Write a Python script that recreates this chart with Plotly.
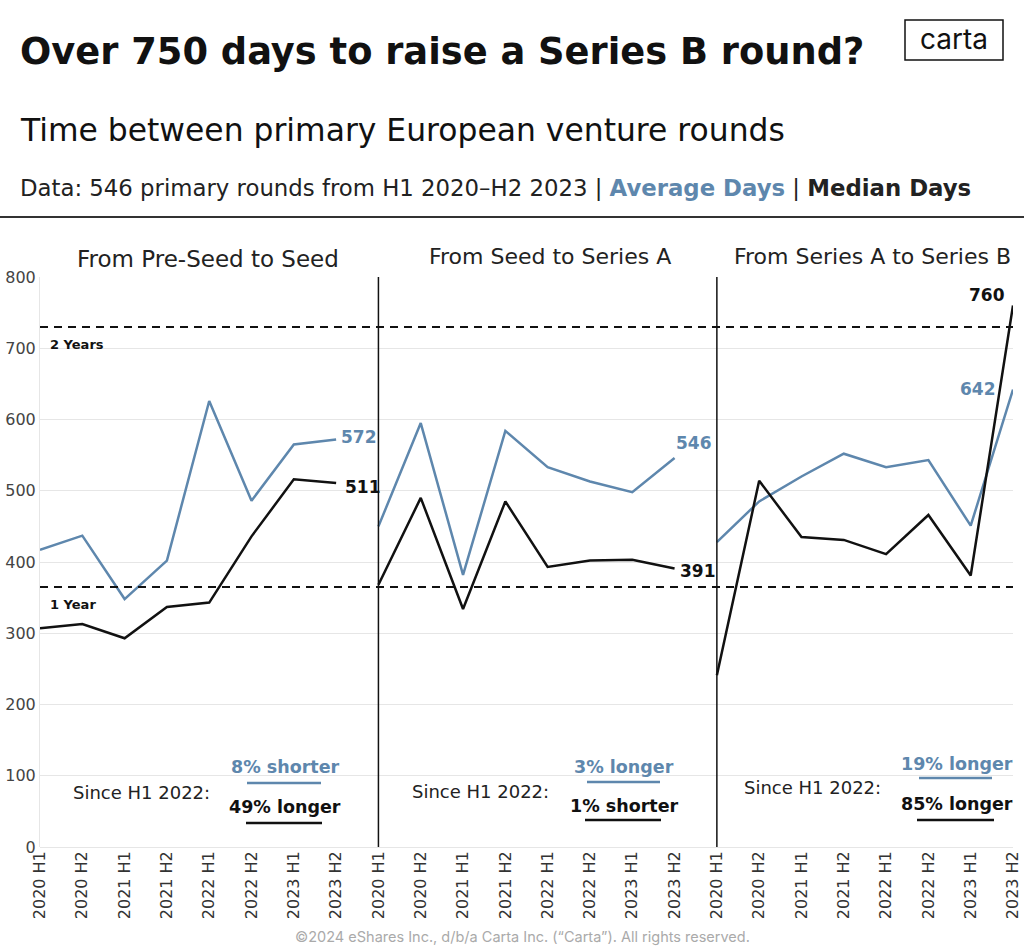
import plotly.graph_objects as go

periods = ["2020 H1", "2020 H2", "2021 H1", "2021 H2", "2022 H1", "2022 H2", "2023 H1", "2023 H2"]
panels = ["From Pre-Seed to Seed", "From Seed to Series A", "From Series A to Series B"]

avg_preseed_seed = [417, 437, 348, 402, 626, 486, 565, 572]
med_preseed_seed = [307, 313, 293, 337, 343, 436, 516, 511]
avg_seed_a = [450, 595, 382, 584, 533, 513, 498, 546]
med_seed_a = [368, 490, 334, 485, 393, 402, 403, 391]
avg_a_b = [428, 485, 520, 552, 533, 543, 451, 642]
med_a_b = [241, 514, 435, 431, 411, 466, 381, 760]

avg_series = [avg_preseed_seed, avg_seed_a, avg_a_b]
med_series = [med_preseed_seed, med_seed_a, med_a_b]

avg_change = ["8% shorter", "3% longer", "19% longer"]
med_change = ["49% longer", "1% shorter", "85% longer"]

thresholds = [730, 365]
threshold_labels = ["2 Years", "1 Year"]

BLUE = "#5e87ad"
BLACK = "#111111"
FONT = "DejaVu Sans"
FONT2 = "Inter"

# layout numbers below are in screenshot pixels (body margin removed via post_script)
W, H = 1024, 950
PLOT_L, PLOT_R, PLOT_T, PLOT_B = 40, 1013, 277, 847
L = PLOT_L
R = W - PLOT_R
T = PLOT_T
B = H - PLOT_B
PW = W - L - R
PH = H - T - B


def px(x):
    return (x - L) / PW


def py(y):
    return (H - B - y) / PH


n = len(periods)
fig = go.Figure()

for p in range(len(panels)):
    xs = [i + p * n for i in range(n)]
    fig.add_trace(go.Scatter(x=xs, y=avg_series[p], mode="lines",
                             line=dict(color=BLUE, width=2.5), showlegend=False, hoverinfo="skip"))
    fig.add_trace(go.Scatter(x=xs, y=med_series[p], mode="lines",
                             line=dict(color=BLACK, width=2.5), showlegend=False, hoverinfo="skip"))

shapes = []
annotations = []

# thresholds
for v, lab in zip(thresholds, threshold_labels):
    shapes.append(dict(type="line", xref="paper", yref="y", x0=0, x1=1, y0=v, y1=v,
                       line=dict(color=BLACK, width=2, dash="8px,6px")))
    annotations.append(dict(xref="paper", yref="y", x=px(48), y=v, yshift=-18, text="<b>%s</b>" % lab,
                            showarrow=False, xanchor="left", yanchor="middle",
                            font=dict(family=FONT, size=13, color=BLACK)))

# panel dividers
for p in range(1, len(panels)):
    shapes.append(dict(type="line", xref="x", yref="y", x0=p * n, x1=p * n, y0=0, y1=800,
                       line=dict(color=BLACK, width=1.5)))

# panel titles
title_cx = [208, 550, 872]
title_cy = [259, 256, 256]
title_sz = [23, 22, 22]
for p, t in enumerate(panels):
    annotations.append(dict(xref="paper", yref="paper", x=px(title_cx[p]), y=py(title_cy[p]), text=t,
                            showarrow=False, xanchor="center", yanchor="middle",
                            font=dict(family=FONT, size=title_sz[p], color="#222222")))

# end labels
end_cfg = [
    (("left", 3, 2), ("left", 7, -4)),
    (("left", -1, 15), ("left", 3, -3)),
    (("right", -15, 1), ("right", -6, 11)),
]
for p in range(len(panels)):
    xe = p * n + n - 1
    a, m = end_cfg[p]
    annotations.append(dict(xref="x", yref="y", x=xe, y=avg_series[p][-1], text="<b>%d</b>" % avg_series[p][-1],
                            showarrow=False, xanchor=a[0], yanchor="middle", xshift=a[1], yshift=a[2],
                            font=dict(family=FONT, size=17, color=BLUE)))
    annotations.append(dict(xref="x", yref="y", x=xe, y=med_series[p][-1], text="<b>%d</b>" % med_series[p][-1],
                            showarrow=False, xanchor=m[0], yanchor="middle", xshift=m[1], yshift=m[2],
                            font=dict(family=FONT, size=17, color=BLACK)))

# since H1 2022 boxes
since_x = [71, 410, 742]
since_y = [792, 791, 787]
chg_cx = [285, 624, 957]
avg_y = [767, 767, 764]
med_y = [807, 806, 804]
avg_ul = [(247, 321, 783), (587, 660, 782), (919, 992, 778)]
med_ul = [(246, 322, 823), (585, 661, 820), (917, 994, 820)]
for p in range(len(panels)):
    annotations.append(dict(xref="paper", yref="paper", x=px(since_x[p]), y=py(since_y[p]), text="Since H1 2022:",
                            showarrow=False, xanchor="left", yanchor="middle",
                            font=dict(family=FONT, size=18, color="#222222")))
    annotations.append(dict(xref="paper", yref="paper", x=px(chg_cx[p]), y=py(avg_y[p]), text="<b>%s</b>" % avg_change[p],
                            showarrow=False, xanchor="center", yanchor="middle",
                            font=dict(family=FONT, size=17.5, color=BLUE)))
    annotations.append(dict(xref="paper", yref="paper", x=px(chg_cx[p]), y=py(med_y[p]), text="<b>%s</b>" % med_change[p],
                            showarrow=False, xanchor="center", yanchor="middle",
                            font=dict(family=FONT, size=17.5, color=BLACK)))
    x0, x1, yy = avg_ul[p]
    shapes.append(dict(type="line", xref="paper", yref="paper", x0=px(x0), x1=px(x1), y0=py(yy), y1=py(yy),
                       line=dict(color=BLUE, width=2.5)))
    x0, x1, yy = med_ul[p]
    shapes.append(dict(type="line", xref="paper", yref="paper", x0=px(x0), x1=px(x1), y0=py(yy), y1=py(yy),
                       line=dict(color=BLACK, width=2.5)))

# header
annotations.append(dict(xref="paper", yref="paper", x=px(18), y=py(51), text="<b>Over 750 days to raise a Series B round?</b>",
                        showarrow=False, xanchor="left", yanchor="middle",
                        font=dict(family=FONT, size=36.8, color=BLACK)))
annotations.append(dict(xref="paper", yref="paper", x=px(18), y=py(130), text="Time between primary European venture rounds",
                        showarrow=False, xanchor="left", yanchor="middle",
                        font=dict(family=FONT, size=31.4, color=BLACK)))
annotations.append(dict(xref="paper", yref="paper", x=px(18), y=py(188),
                        text="Data: 546 primary rounds from H1 2020–H2 2023 | <span style='color:%s'><b>Average Days</b></span> | <b>Median Days</b>" % BLUE,
                        showarrow=False, xanchor="left", yanchor="middle",
                        font=dict(family=FONT, size=22.8, color="#222222")))
annotations.append(dict(xref="paper", yref="paper", x=px(954), y=py(39), text="carta",
                        showarrow=False, xanchor="center", yanchor="middle",
                        font=dict(family=FONT2, size=28, color=BLACK)))
shapes.append(dict(type="rect", xref="paper", yref="paper", x0=px(905), x1=px(1003), y0=py(20), y1=py(60),
                   line=dict(color=BLACK, width=1.5), fillcolor="rgba(0,0,0,0)"))
shapes.append(dict(type="line", xref="paper", yref="paper", x0=px(0), x1=px(1024), y0=py(217), y1=py(217),
                   line=dict(color="#333333", width=2)))
annotations.append(dict(xref="paper", yref="paper", x=px(522), y=py(937),
                        text="©2024 eShares Inc., d/b/a Carta Inc. (“Carta”). All rights reserved.",
                        showarrow=False, xanchor="center", yanchor="middle",
                        font=dict(family=FONT2, size=14.5, color="#aaaaaa")))

fig.update_layout(
    width=W, height=H,
    margin=dict(l=L, r=R, t=T, b=B, autoexpand=False),
    paper_bgcolor="white", plot_bgcolor="white",
    shapes=shapes, annotations=annotations,
    font=dict(family=FONT),
    xaxis=dict(range=[0, 3 * n - 1], tickvals=list(range(3 * n)), ticktext=periods * 3,
               tickangle=-90, showgrid=False, zeroline=False, showline=False, ticks="",
               automargin=False,
               tickfont=dict(family=FONT, size=16, color="#333333")),
    yaxis=dict(range=[0, 800], dtick=100, showgrid=True, gridcolor="#e6e6e6", gridwidth=1,
               zeroline=True, zerolinecolor="#e6e6e6", zerolinewidth=1,
               showline=True, linecolor="#e6e6e6", ticks="", automargin=False,
               tickfont=dict(family=FONT, size=16, color="#444444")),
)

fig.write_html("out.html", config={"displayModeBar": False},
               post_script="document.body.style.margin='0';document.body.style.overflow='hidden';")
